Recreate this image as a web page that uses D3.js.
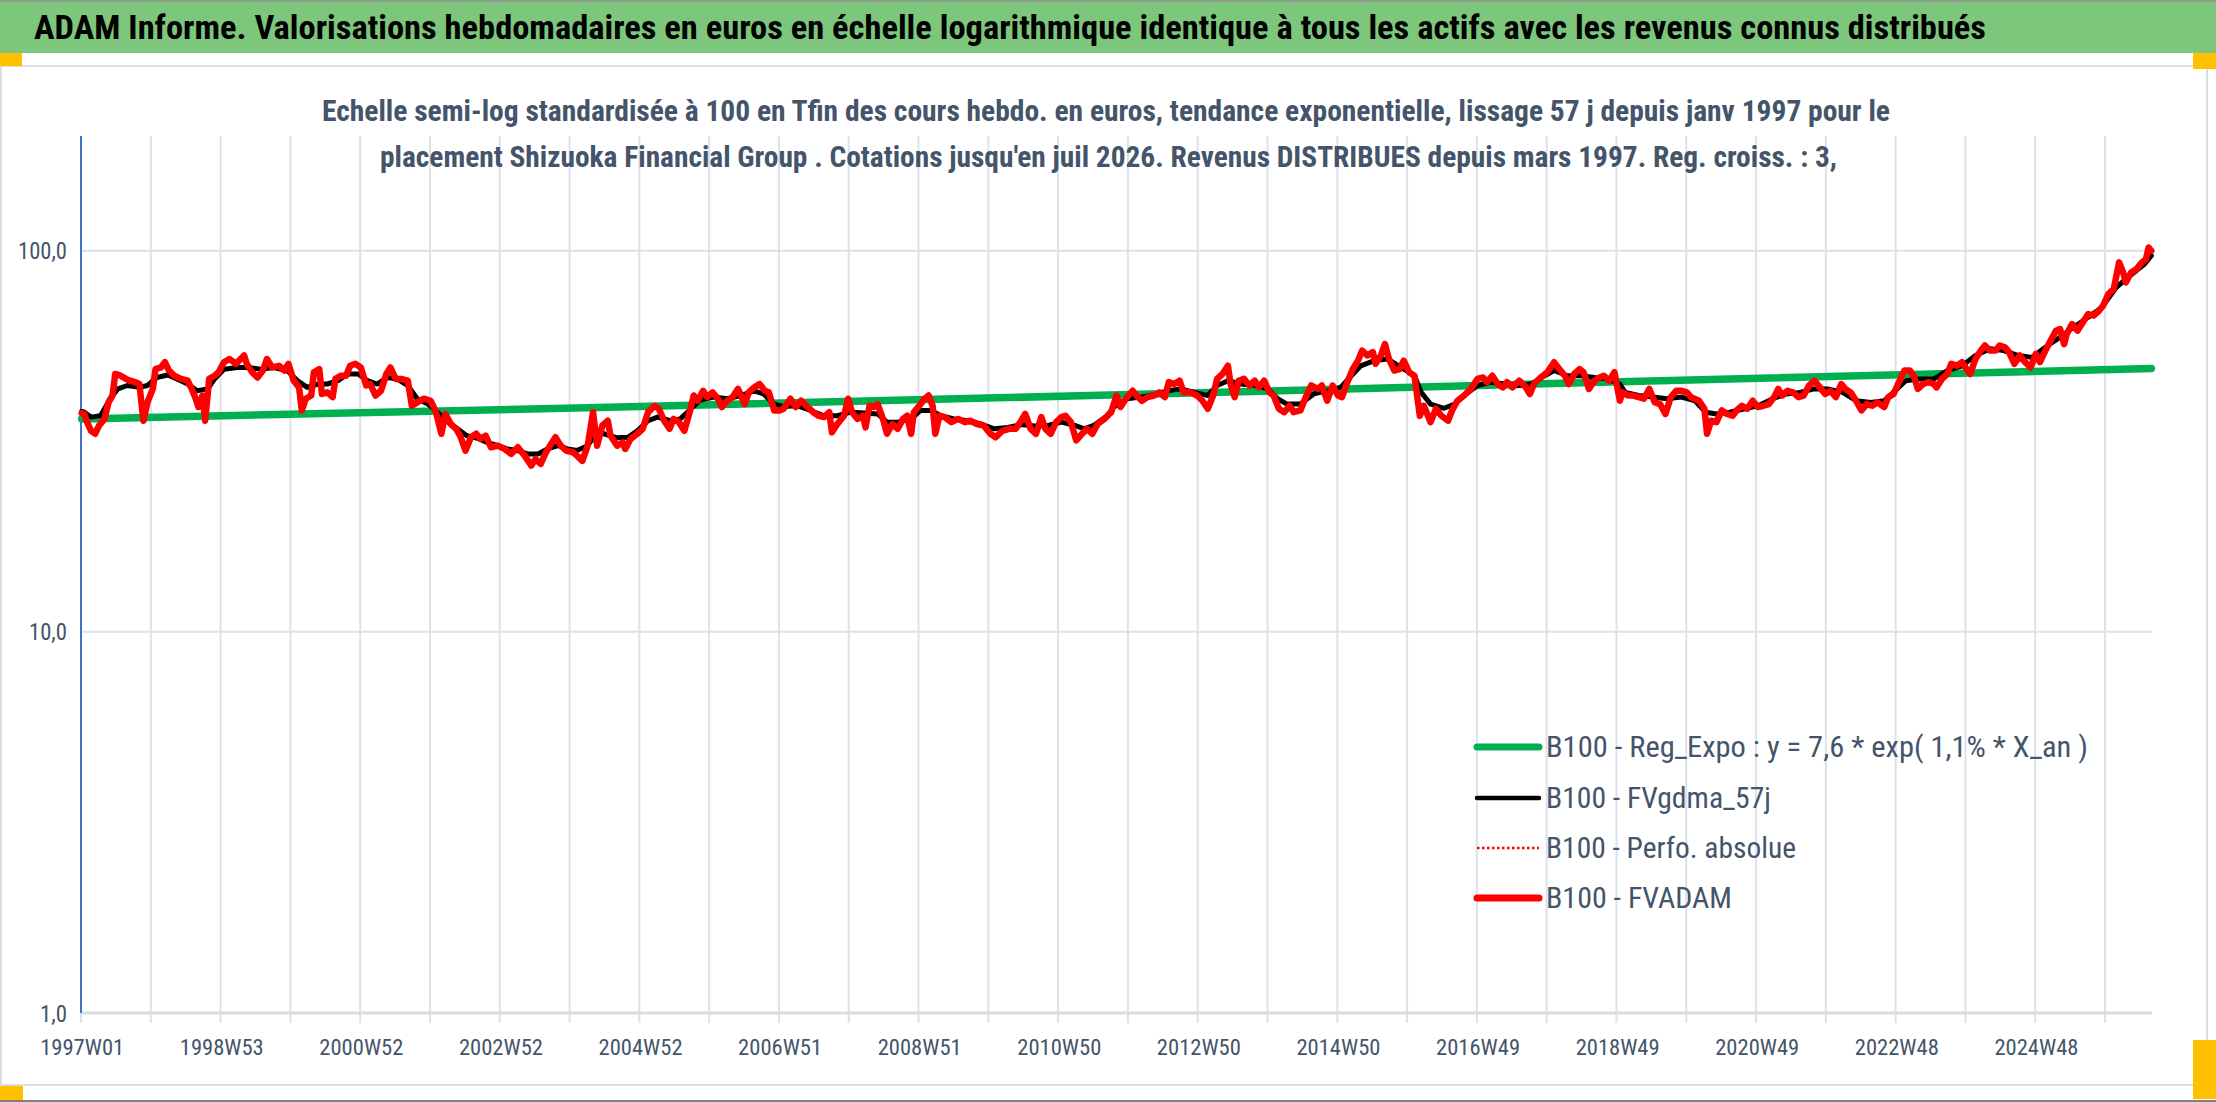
<!DOCTYPE html>
<html><head><meta charset="utf-8">
<script src="https://cdn.jsdelivr.net/npm/d3@7/dist/d3.min.js"></script>
<style>body{margin:0;background:#fff;overflow:hidden}svg{display:block}</style>
</head><body>
<svg id="chart" width="2216" height="1102"></svg>
<script>
// ---------------- DATA ----------------
const titleText = "ADAM Informe. Valorisations hebdomadaires en euros en échelle logarithmique identique à tous les actifs avec les revenus connus distribués";
const subtitleLines = [
  "Echelle semi-log standardisée à 100 en Tfin des cours hebdo. en euros, tendance exponentielle, lissage 57 j depuis janv 1997 pour le",
  "placement Shizuoka Financial Group . Cotations jusqu'en juil 2026. Revenus DISTRIBUES depuis mars 1997. Reg. croiss. : 3,"
];
const weekCount = 1543; // 1997W01 .. 2026W30
const tickLabels = ["1997W01","1998W53","2000W52","2002W52","2004W52","2006W51","2008W51","2010W50","2012W50","2014W50","2016W49","2018W49","2020W49","2022W48","2024W48"];
const tickEvery = 104;
const gridEvery = 52;
const yTicks = [1, 10, 100];
const yTickLabels = ["1,0", "10,0", "100,0"];
const legendLabels = [
  "B100 - Reg_Expo : y = 7,6 * exp( 1,1% *  X_an )",
  "B100 - FVgdma_57j",
  "B100 - Perfo. absolue",
  "B100 - FVADAM"
];
// [week index, value]
const regExpo = [[0,36.2],[385,38.8],[766,41.8],[1146,45.3],[1542,49.1]];
const fvgdma = [[0,37.9],[2,37.7],[7,36.6],[14,36.9],[22,41.3],[27,43.4],[34,44.3],[43,43.8],[49,44.3],[56,46.5],[64,47.2],[71,46.1],[79,44.7],[86,42.9],[94,43.4],[99,46.1],[106,48.9],[116,49.4],[124,49.4],[133,48.9],[143,49.4],[153,48.5],[161,45.6],[168,43.8],[176,44.7],[183,44.7],[191,45.6],[198,47.5],[206,47.5],[213,45.6],[220,44.7],[228,46.5],[235,46.1],[243,44.3],[250,40.9],[258,39.6],[265,37.7],[273,35.5],[280,34.1],[287,32.7],[295,32.2],[302,31.4],[310,30.8],[317,30.2],[325,29.9],[332,29.3],[340,29.3],[347,30.2],[355,30.8],[362,30.2],[369,29.9],[377,30.8],[384,33.4],[389,33.1],[399,32.3],[407,32.4],[414,33.7],[422,35.8],[429,36.6],[439,35.8],[446,36.2],[454,38.5],[461,40.6],[471,41.3],[481,40.9],[491,41.7],[501,42.9],[508,42.1],[516,39.6],[523,39.0],[533,39.2],[543,38.1],[553,36.9],[563,36.9],[573,37.7],[583,37.5],[593,37.3],[600,35.5],[608,35.5],[618,36.2],[625,38.1],[633,38.1],[640,36.9],[650,36.2],[660,35.8],[670,35.1],[680,34.1],[690,34.4],[700,35.0],[710,34.7],[720,34.8],[730,35.5],[740,34.8],[747,34.1],[754,34.8],[764,36.9],[769,38.9],[779,40.9],[789,41.3],[799,41.9],[809,42.9],[819,43.4],[829,42.5],[839,41.7],[846,44.3],[854,45.6],[864,44.7],[874,44.3],[884,43.4],[891,40.9],[898,39.6],[908,39.6],[918,42.1],[928,42.9],[938,43.8],[946,47.0],[953,49.9],[963,51.5],[973,52.0],[983,49.4],[993,47.0],[998,42.5],[1005,39.6],[1015,38.6],[1023,39.6],[1030,41.7],[1040,44.3],[1050,45.2],[1060,44.7],[1070,44.3],[1080,44.7],[1090,47.0],[1097,48.5],[1107,47.0],[1117,47.0],[1127,46.5],[1137,46.1],[1146,44.7],[1150,42.5],[1160,41.7],[1171,41.3],[1181,40.9],[1192,41.3],[1202,40.4],[1210,37.7],[1218,37.3],[1228,37.7],[1239,38.5],[1249,39.2],[1260,40.9],[1270,42.1],[1280,42.5],[1291,43.4],[1301,43.4],[1312,42.5],[1322,40.4],[1333,40.0],[1343,40.4],[1351,42.9],[1359,45.6],[1369,46.1],[1380,46.1],[1390,48.5],[1401,49.9],[1411,53.1],[1422,55.3],[1432,54.7],[1443,53.1],[1453,52.5],[1463,55.8],[1474,59.3],[1484,63.0],[1495,66.9],[1505,71.0],[1516,80.2],[1526,86.0],[1537,92.3],[1542,97.0]];
const fvadam = [[0,37.5],[2,37.3],[4,35.5],[7,33.7],[10,33.1],[13,34.8],[17,36.2],[20,40.0],[23,41.7],[25,47.5],[29,47.0],[33,46.1],[36,45.6],[40,45.2],[43,44.7],[46,35.8],[49,40.0],[53,43.4],[55,48.9],[59,49.4],[62,51.0],[65,48.5],[69,47.0],[74,46.1],[79,45.6],[82,43.4],[85,40.9],[87,38.9],[90,41.7],[92,35.8],[95,46.1],[99,47.0],[102,48.0],[106,51.0],[110,52.0],[115,50.5],[121,53.1],[123,50.5],[127,48.0],[131,46.5],[135,48.5],[138,52.0],[142,49.4],[147,49.9],[151,48.5],[154,50.5],[158,45.6],[162,43.8],[164,38.1],[167,40.9],[171,41.7],[173,48.0],[177,48.9],[179,42.1],[183,42.5],[187,41.3],[189,46.1],[193,47.0],[197,47.0],[200,49.9],[204,50.5],[208,49.4],[212,44.3],[215,44.7],[219,41.7],[223,42.9],[227,47.5],[230,49.4],[234,46.1],[238,46.1],[243,45.6],[246,39.2],[250,40.0],[255,40.9],[260,40.4],[264,37.7],[268,33.1],[271,37.3],[275,35.1],[279,34.1],[282,32.7],[286,29.9],[290,32.4],[294,33.1],[297,32.1],[301,32.7],[305,30.5],[310,30.8],[315,30.2],[320,29.3],[325,30.5],[330,29.0],[335,27.3],[338,28.4],[342,27.6],[346,29.6],[349,30.8],[353,32.4],[357,30.8],[361,29.9],[366,29.6],[369,29.0],[373,28.1],[377,30.8],[381,37.7],[384,30.8],[388,34.8],[392,35.8],[394,32.7],[399,30.8],[403,31.4],[405,30.2],[409,32.1],[414,33.1],[418,34.1],[422,37.7],[427,39.2],[430,38.5],[434,35.8],[438,34.1],[441,36.2],[445,35.5],[449,33.7],[453,37.7],[456,41.7],[459,40.4],[463,42.9],[466,41.3],[470,42.5],[474,40.9],[477,38.9],[481,40.4],[485,41.3],[489,43.4],[494,39.6],[497,42.5],[501,43.8],[505,44.7],[509,42.9],[512,42.5],[516,38.1],[520,38.1],[523,38.5],[528,40.9],[532,38.9],[536,40.4],[541,38.9],[545,37.7],[549,36.9],[553,36.6],[557,37.7],[559,33.4],[563,35.1],[568,36.9],[571,40.9],[574,37.7],[578,36.2],[582,36.9],[584,34.4],[587,39.2],[590,38.9],[593,39.6],[597,36.2],[600,33.1],[604,35.1],[608,34.1],[612,36.2],[615,36.9],[618,33.1],[620,37.7],[624,39.2],[628,40.9],[631,41.7],[634,39.2],[636,33.1],[639,36.9],[643,36.6],[648,35.5],[653,36.2],[658,35.5],[662,35.8],[667,35.1],[672,34.8],[677,33.1],[681,32.4],[686,33.7],[691,34.1],[696,34.1],[700,35.8],[703,37.3],[707,34.1],[711,33.1],[715,36.6],[718,34.1],[722,33.1],[726,35.5],[730,36.6],[733,36.9],[737,35.5],[741,31.8],[744,32.7],[749,34.1],[753,33.1],[757,35.1],[762,36.2],[767,37.7],[771,41.7],[774,38.9],[778,40.9],[783,42.9],[787,41.3],[790,40.4],[794,41.3],[799,41.7],[803,42.5],[807,41.3],[810,45.2],[814,44.7],[818,45.6],[821,42.5],[826,42.5],[831,41.7],[835,40.4],[839,38.5],[843,41.7],[846,46.1],[850,47.5],[854,49.9],[856,44.7],[859,41.3],[862,45.6],[866,46.1],[870,44.3],[874,45.6],[877,43.8],[881,45.6],[885,42.5],[888,41.7],[892,38.5],[896,37.7],[900,39.2],[903,37.7],[908,38.1],[912,41.3],[916,44.3],[921,43.4],[924,44.3],[928,40.4],[932,44.3],[936,41.7],[939,41.3],[943,45.2],[947,48.9],[951,51.5],[954,54.7],[958,53.1],[962,54.2],[964,50.5],[968,53.1],[971,56.9],[974,52.0],[978,48.5],[982,48.9],[985,51.5],[989,48.0],[993,47.0],[997,36.9],[1000,39.2],[1005,35.5],[1009,38.5],[1013,36.9],[1018,35.8],[1021,38.1],[1025,40.4],[1030,41.7],[1035,43.4],[1040,46.1],[1044,46.5],[1047,45.2],[1051,47.0],[1055,44.7],[1059,43.8],[1062,45.2],[1066,43.8],[1071,45.6],[1075,44.3],[1079,42.1],[1082,44.7],[1087,46.5],[1092,48.0],[1097,51.0],[1101,48.9],[1105,47.0],[1108,44.7],[1112,47.5],[1116,48.9],[1119,48.0],[1123,43.4],[1127,45.6],[1131,46.5],[1134,47.0],[1138,45.6],[1142,48.0],[1146,40.4],[1148,42.5],[1152,41.7],[1156,41.7],[1160,41.3],[1164,40.9],[1168,43.4],[1172,40.0],[1176,39.6],[1180,37.3],[1184,41.3],[1188,42.9],[1192,42.9],[1196,42.5],[1199,41.3],[1205,40.4],[1209,38.5],[1211,33.1],[1214,35.8],[1218,35.5],[1222,38.1],[1226,37.3],[1230,36.9],[1233,38.1],[1237,39.2],[1241,38.5],[1245,40.4],[1249,38.9],[1253,39.2],[1257,39.6],[1261,41.3],[1264,43.4],[1267,41.7],[1271,42.9],[1275,42.5],[1279,41.3],[1283,41.7],[1287,44.3],[1291,45.6],[1295,43.8],[1299,42.1],[1303,42.9],[1307,41.3],[1311,44.7],[1314,43.4],[1318,42.5],[1322,40.4],[1326,38.1],[1330,39.6],[1334,39.2],[1338,40.0],[1343,38.9],[1346,41.3],[1350,42.1],[1354,45.2],[1358,48.5],[1362,48.5],[1365,47.0],[1368,43.4],[1372,44.7],[1376,45.2],[1380,44.7],[1382,43.8],[1386,46.1],[1390,47.5],[1393,50.5],[1397,49.9],[1401,51.0],[1405,48.5],[1407,47.5],[1411,52.0],[1415,54.7],[1418,56.4],[1422,54.7],[1426,54.7],[1429,56.4],[1433,55.8],[1436,54.2],[1440,50.5],[1444,53.1],[1448,51.0],[1452,49.4],[1456,53.6],[1459,51.0],[1463,54.7],[1467,58.1],[1471,61.7],[1474,62.3],[1477,56.9],[1479,60.5],[1483,64.2],[1487,61.7],[1491,64.9],[1495,68.2],[1499,67.6],[1503,69.6],[1506,71.7],[1510,77.0],[1514,79.4],[1518,93.2],[1521,87.7],[1523,82.6],[1527,87.7],[1531,89.5],[1535,93.2],[1538,95.1],[1540,102.0],[1542,100.0]];
const perfoAbsolue = fvadam; // lies under FVADAM in the picture

// ---------------- LAYOUT ----------------
const FONT = "'Liberation Sans Narrow','Roboto Condensed',Roboto,'Noto Sans',sans-serif";
const TXT = "#44546A";
const plot = {left: 81, right: 2152, top: 136, bottom: 1013};
const svg = d3.select("#chart");

// frame
svg.append("rect").attr("x",0).attr("y",0).attr("width",2216).attr("height",1102).attr("fill","#fff");
svg.append("rect").attr("x",1).attr("y",66).attr("width",2206).attr("height",1019)
  .attr("fill","#fff").attr("stroke","#DADDE2").attr("stroke-width",2);
svg.append("rect").attr("x",0).attr("y",0).attr("width",2216).attr("height",53).attr("fill","#7DC77C");
svg.append("rect").attr("x",0).attr("y",0).attr("width",2216).attr("height",2).attr("fill","#8FA08F");
svg.append("rect").attr("x",0).attr("y",1100).attr("width",2216).attr("height",2).attr("fill","#808080");
const orange = "#FFC000";
[[0,53,22,13],[2193,53,23,16],[0,1086,23,14],[2193,1040,23,59]].forEach(r=>{
  svg.append("rect").attr("x",r[0]).attr("y",r[1]).attr("width",r[2]).attr("height",r[3]).attr("fill",orange);
});

// title
svg.append("text").attr("x",34).attr("y",39).text(titleText)
  .attr("font-family",FONT).attr("font-weight","bold").attr("font-size",34).attr("fill","#000")
  .attr("textLength",1952).attr("lengthAdjust","spacingAndGlyphs");

// scales
const x = d3.scaleLinear().domain([-0.5, weekCount - 0.5]).range([plot.left, plot.right]);
const y = d3.scaleLog().domain([1, 200]).range([plot.bottom, plot.top]);

// gridlines
const gridIdx = d3.range(0, weekCount, gridEvery);
const gridColor = "#DDE2EA";
svg.append("g").selectAll("line").data(gridIdx).join("line")
  .attr("x1", d => x(d - 0.5)).attr("x2", d => x(d - 0.5))
  .attr("y1", plot.top).attr("y2", plot.bottom + 10)
  .attr("stroke", gridColor).attr("stroke-width", 2);
svg.append("g").selectAll("line").data(yTicks.filter(v=>v>1)).join("line")
  .attr("x1", plot.left).attr("x2", plot.right)
  .attr("y1", d => y(d)).attr("y2", d => y(d))
  .attr("stroke", gridColor).attr("stroke-width", 2);

// subtitle (overlaps plot area as in original)
const subSpec = [{x:322, w:1568, yb:121},{x:380, w:1457, yb:167}];
subtitleLines.forEach((t,i)=>{
  svg.append("text").attr("x",subSpec[i].x).attr("y",subSpec[i].yb).text(t)
    .attr("font-family",FONT).attr("font-weight","bold").attr("font-size",29).attr("fill",TXT)
    .attr("textLength",subSpec[i].w).attr("lengthAdjust","spacingAndGlyphs");
});

// x axis
const xAxis = d3.axisBottom(x)
  .tickValues(tickLabels.map((_, i) => i * tickEvery))
  .tickFormat((d, i) => tickLabels[i]).tickSize(0).tickPadding(0);
const gx = svg.append("g").attr("transform", `translate(0,${plot.bottom})`).call(xAxis);
gx.select(".domain").remove();
gx.selectAll("text").attr("font-family",FONT).attr("font-size",22).attr("fill",TXT)
  .attr("y",42).attr("dy",0).attr("textLength",84).attr("lengthAdjust","spacingAndGlyphs");
svg.append("line").attr("x1",plot.left).attr("x2",plot.right).attr("y1",plot.bottom).attr("y2",plot.bottom)
  .attr("stroke","#D9DCE1").attr("stroke-width",3);

// y axis
const yAxis = d3.axisLeft(y).tickValues(yTicks).tickFormat((d,i)=>yTickLabels[i]).tickSize(0).tickPadding(0);
const gy = svg.append("g").attr("transform", `translate(${plot.left},0)`).call(yAxis);
gy.select(".domain").remove();
gy.selectAll("text").attr("font-family",FONT).attr("font-size",23).attr("fill",TXT)
  .attr("x",-14).attr("dy","0.35em")
  .attr("textLength", function(){ const s = d3.select(this).text(); return s.replace(",","").length*11 + 5; })
  .attr("lengthAdjust","spacingAndGlyphs");
svg.append("line").attr("x1",plot.left).attr("x2",plot.left).attr("y1",plot.top).attr("y2",plot.bottom)
  .attr("stroke","#4472C4").attr("stroke-width",2);

// series
const line = d3.line().x(d => x(d[0])).y(d => y(d[1])).curve(d3.curveLinear);
const g = svg.append("g").attr("fill","none").attr("stroke-linejoin","round").attr("stroke-linecap","round");
g.append("path").datum(regExpo).attr("d", line).attr("stroke","#00B050").attr("stroke-width",7.5);
g.append("path").datum(fvgdma).attr("d", line).attr("stroke","#000").attr("stroke-width",5);
g.append("path").datum(perfoAbsolue).attr("d", line).attr("stroke","#FF0000").attr("stroke-width",2).attr("stroke-dasharray","2,3");
g.append("path").datum(fvadam).attr("d", line).attr("stroke","#FF0000").attr("stroke-width",6.5);

// legend
const legendStyles = [
  {c:"#00B050", w:7, dash:null},
  {c:"#000", w:4.5, dash:null},
  {c:"#FF0000", w:2.5, dash:"2.5,2.5"},
  {c:"#FF0000", w:7, dash:null}
];
const legendY = [747, 798, 848, 898];
const legendW = [542, 225, 250, 186];
const lg = svg.append("g");
legendLabels.forEach((t,i)=>{
  const s = legendStyles[i];
  const l = lg.append("line").attr("x1",1477).attr("x2",1539).attr("y1",legendY[i]).attr("y2",legendY[i])
    .attr("stroke",s.c).attr("stroke-width",s.w).attr("stroke-linecap", s.dash ? "butt" : "round");
  if (s.dash) l.attr("stroke-dasharray", s.dash);
  lg.append("text").attr("x",1546).attr("y",legendY[i]+10).text(t)
    .attr("font-family",FONT).attr("font-size",29).attr("fill",TXT)
    .attr("textLength",legendW[i]).attr("lengthAdjust","spacingAndGlyphs");
});
</script>
</body></html>
